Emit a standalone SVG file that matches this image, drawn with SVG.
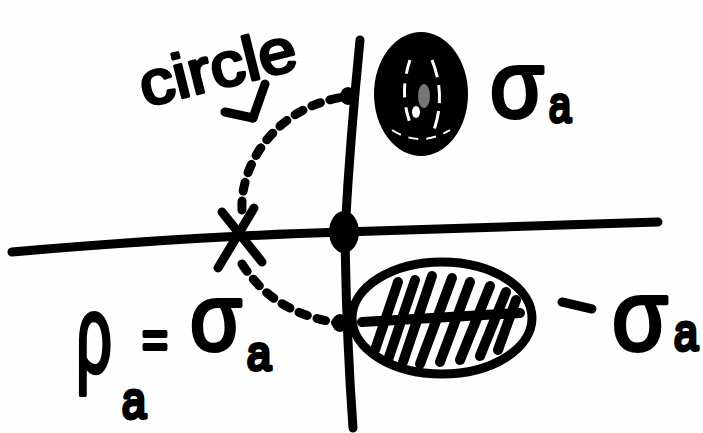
<svg xmlns="http://www.w3.org/2000/svg" width="703" height="433" viewBox="0 0 703 433">
<style>
.ln{fill:none;stroke:#000;stroke-width:9;stroke-linecap:round;stroke-linejoin:round}
.ds{fill:none;stroke:#000;stroke-width:9;stroke-linecap:round;stroke-dasharray:9 10}
.t{font-family:"Liberation Sans","DejaVu Sans",sans-serif;fill:#000;stroke:#000;stroke-width:4;stroke-linejoin:round}
.h{fill:none;stroke:#000;stroke-width:10;stroke-linecap:round}
</style>
<rect width="703" height="433" fill="#fefefe"/>
<g id="axes">
<path class="ln" d="M12,252 Q200,236 343,232 T658,222"/>
<path class="ln" d="M360,40 Q350,140 345,232 Q346,330 353,428"/>
<ellipse cx="344" cy="232" rx="15" ry="21" fill="#000"/>
</g>
<g id="connectors">
<path class="ds" d="M242,210 C240,160 280,106 344,97"/>
<path class="ds" d="M242,264 C258,288 282,314 338,323"/>
<polyline class="ln" points="265,84 253,118"/>
<polyline class="ln" points="225,112 253,118"/>
</g>
<g id="pole-origin-dots">
<ellipse cx="348" cy="96" rx="8" ry="9" fill="#000"/>
<ellipse cx="340" cy="323" rx="8" ry="9" fill="#000"/>
</g>
<g id="x-mark">
<line class="ln" x1="222" y1="212" x2="262" y2="262"/>
<line class="ln" x1="254" y1="208" x2="218" y2="268"/>
</g>
<g id="top-zero">
<ellipse cx="421" cy="94" rx="47" ry="62" fill="#000"/>
<path d="M410,60 Q398,95 412,128" fill="none" stroke="#fff" stroke-width="3" stroke-dasharray="14 10"/>
<path d="M432,60 Q446,95 434,130" fill="none" stroke="#fff" stroke-width="3" stroke-dasharray="18 8"/>
<ellipse cx="416" cy="112" rx="4" ry="6" fill="#fff"/>
<path d="M392,130 Q420,148 450,130" fill="none" stroke="#fff" stroke-width="2" stroke-dasharray="10 8"/>
<ellipse cx="424" cy="96" rx="6" ry="12" fill="#777"/>
</g>
<g id="bottom-zero">
<ellipse class="ln" cx="442" cy="318" rx="90" ry="56"/>
<line class="h" x1="362" y1="322" x2="520" y2="313"/>
<line class="h" x1="375" y1="350" x2="398" y2="282"/>
<line class="h" x1="388" y1="360" x2="415" y2="280"/>
<line class="h" x1="403" y1="362" x2="432" y2="276"/>
<line class="h" x1="420" y1="364" x2="452" y2="278"/>
<line class="h" x1="440" y1="362" x2="470" y2="282"/>
<line class="h" x1="460" y1="360" x2="490" y2="286"/>
<line class="h" x1="480" y1="356" x2="506" y2="292"/>
<line class="h" x1="498" y1="350" x2="516" y2="300"/>
</g>
<g id="labels">
<text class="t" font-size="62" transform="translate(145,107) rotate(-14)" textLength="160" lengthAdjust="spacingAndGlyphs" style="stroke-width:3">circle</text>
<text class="t" font-size="95" x="490" y="117" textLength="54" lengthAdjust="spacingAndGlyphs">σ</text>
<text class="t" font-size="50" x="549" y="122" textLength="22" lengthAdjust="spacingAndGlyphs">a</text>
<line class="ln" x1="562" y1="302" x2="592" y2="309"/>
<text class="t" font-size="100" x="612" y="350" textLength="56" lengthAdjust="spacingAndGlyphs">σ</text>
<text class="t" font-size="52" x="674" y="350" textLength="24" lengthAdjust="spacingAndGlyphs">a</text>
<text class="t" font-size="110" x="76" y="372" textLength="36" lengthAdjust="spacingAndGlyphs">ρ</text>
<text class="t" font-size="52" x="122" y="418" textLength="24" lengthAdjust="spacingAndGlyphs">a</text>
<text class="t" font-size="54" x="142" y="358" textLength="26" lengthAdjust="spacingAndGlyphs">=</text>
<text class="t" font-size="95" x="190" y="350" textLength="52" lengthAdjust="spacingAndGlyphs">σ</text>
<text class="t" font-size="48" x="247" y="370" textLength="24" lengthAdjust="spacingAndGlyphs">a</text>
</g>
</svg>
